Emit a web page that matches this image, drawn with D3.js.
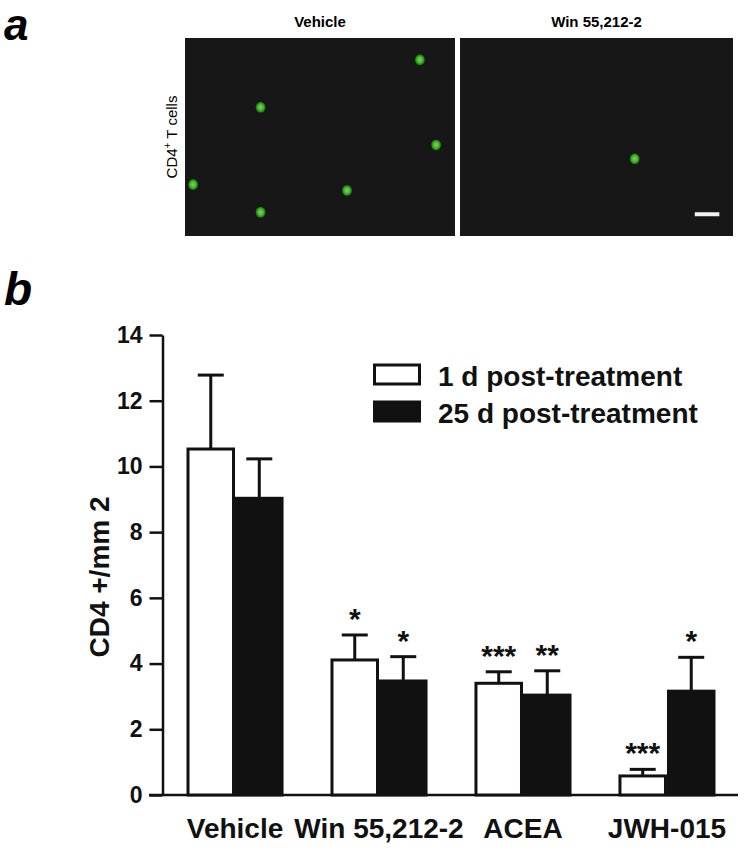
<!DOCTYPE html>
<html>
<head>
<meta charset="utf-8">
<script src="https://cdn.jsdelivr.net/npm/d3@7"></script>
<style>
  html, body { margin: 0; padding: 0; background: #ffffff; }
  svg { display: block; }
  text { font-family: "Liberation Sans", Arial, Helvetica, sans-serif; }
</style>
</head>
<body>
<svg id="chart" width="746" height="853"></svg>
<script>
// ---------- data ----------
const categories = ["Vehicle", "Win 55,212-2", "ACEA", "JWH-015"];
const seriesNames = ["1 d post-treatment", "25 d post-treatment"];
const day1Mean = [10.53, 4.11, 3.40, 0.58];
const day1Err = [2.25, 0.76, 0.35, 0.20];
const day25Mean = [9.03, 3.47, 3.04, 3.16];
const day25Err = [1.20, 0.74, 0.74, 1.03];
const day1Sig = ["", "*", "***", "***"];
const day25Sig = ["", "*", "**", "*"];
const yTicks = [0, 2, 4, 6, 8, 10, 12, 14];
const panelTitles = ["Vehicle", "Win 55,212-2"];
// micrograph cell positions (fraction of panel width / height)
const vehicleCells = [[0.87, 0.11], [0.28, 0.35], [0.93, 0.54], [0.03, 0.74], [0.60, 0.77], [0.28, 0.88]];
const winCells = [[0.64, 0.61]];

const svg = d3.select("#chart");
const defs = svg.append("defs");
const grad = defs.append("radialGradient").attr("id", "cellGrad");
grad.append("stop").attr("offset", "0%").attr("stop-color", "#7fdc4a");
grad.append("stop").attr("offset", "60%").attr("stop-color", "#3fb52a");
grad.append("stop").attr("offset", "100%").attr("stop-color", "#1f5a16");

// ---------- panel a ----------
svg.append("text").attr("x", 4).attr("y", 40)
  .attr("font-size", 44).attr("font-weight", "bold").attr("font-style", "italic")
  .text("a");

const panels = [
  { x0: 185, x1: 455, cells: vehicleCells, title: panelTitles[0], bar: false },
  { x0: 460, x1: 733, cells: winCells, title: panelTitles[1], bar: true }
];
const pTop = 38, pBot = 236;
panels.forEach(p => {
  const px = d3.scaleLinear().domain([0, 1]).range([p.x0, p.x1]);
  const py = d3.scaleLinear().domain([0, 1]).range([pTop, pBot]);
  svg.append("rect").attr("x", p.x0).attr("y", pTop)
    .attr("width", p.x1 - p.x0).attr("height", pBot - pTop)
    .attr("fill", "#161716");
  svg.append("text").attr("x", (p.x0 + p.x1) / 2).attr("y", 27)
    .attr("text-anchor", "middle").attr("font-size", 15).attr("font-weight", "bold")
    .text(p.title);
  svg.selectAll(null).data(p.cells).enter().append("ellipse")
    .attr("cx", d => px(d[0])).attr("cy", d => py(d[1]))
    .attr("rx", 5).attr("ry", 5.5)
    .attr("fill", "url(#cellGrad)");
  if (p.bar) {
    svg.append("rect").attr("x", px(0.86)).attr("y", py(0.88))
      .attr("width", px(0.95) - px(0.86)).attr("height", 4).attr("fill", "#f2f2f2");
  }
});
svg.append("text")
  .attr("transform", "translate(177,137) rotate(-90)")
  .attr("text-anchor", "middle").attr("font-size", 15)
  .html('CD4<tspan dy="-6" font-size="10">+</tspan><tspan dy="6"> T cells</tspan>');

// ---------- panel b ----------
svg.append("text").attr("x", 4).attr("y", 305)
  .attr("font-size", 46).attr("font-weight", "bold").attr("font-style", "italic")
  .text("b");

const y = d3.scaleLinear().domain([0, 14]).range([795, 335]);
const x = d3.scaleBand().domain(categories).range([186.5, 715.5])
  .paddingInner(0.326).paddingOuter(0);
const xs = d3.scaleBand().domain([0, 1]).range([0, x.bandwidth()]).padding(0);

// y axis
const yAxis = svg.append("g").attr("transform", "translate(162.5,0)")
  .call(d3.axisLeft(y).tickValues(yTicks).tickSize(13).tickSizeOuter(0).tickPadding(7));
yAxis.selectAll("path, line").attr("stroke", "#111").attr("stroke-width", 2.5);
yAxis.selectAll("text").attr("font-size", 23).attr("font-weight", "bold")
  .attr("fill", "#111").attr("font-family", "'Liberation Sans', Arial, sans-serif");

// baseline
svg.append("line").attr("x1", 149).attr("x2", 738)
  .attr("y1", y(0)).attr("y2", y(0))
  .attr("stroke", "#111").attr("stroke-width", 2.5);

// y title
svg.append("text")
  .attr("transform", `translate(109,${(y(0) + y(14)) / 2 + 12}) rotate(-90)`)
  .attr("text-anchor", "middle").attr("font-size", 28).attr("font-weight", "bold")
  .attr("fill", "#111")
  .text("CD4 +/mm 2");

const rows = categories.map((c, i) => ({
  c,
  vals: [
    { s: 0, m: day1Mean[i], e: day1Err[i], sig: day1Sig[i] },
    { s: 1, m: day25Mean[i], e: day25Err[i], sig: day25Sig[i] }
  ]
}));

const groups = svg.selectAll("g.grp").data(rows).enter().append("g")
  .attr("class", "grp")
  .attr("transform", d => `translate(${x(d.c)},0)`);

groups.selectAll("g.err").data(d => d.vals).enter().append("g").attr("class", "err")
  .each(function (d) {
    const g = d3.select(this);
    const cx = xs(d.s) + xs.bandwidth() / 2;
    g.append("line").attr("x1", cx).attr("x2", cx)
      .attr("y1", y(d.m)).attr("y2", y(d.m + d.e))
      .attr("stroke", "#111").attr("stroke-width", 3);
    g.append("line").attr("x1", cx - 13).attr("x2", cx + 13)
      .attr("y1", y(d.m + d.e)).attr("y2", y(d.m + d.e))
      .attr("stroke", "#111").attr("stroke-width", 3);
    if (d.sig) {
      g.append("text").attr("x", cx).attr("y", y(d.m + d.e) - 6)
        .attr("text-anchor", "middle").attr("font-size", 30).attr("font-weight", "bold")
        .attr("fill", "#111").text(d.sig);
    }
  });

groups.selectAll("rect.bar").data(d => d.vals).enter().append("rect")
  .attr("class", "bar")
  .attr("x", d => xs(d.s) + 1.5)
  .attr("y", d => y(d.m))
  .attr("width", xs.bandwidth() - 3)
  .attr("height", d => y(0) - y(d.m))
  .attr("fill", d => d.s === 0 ? "#ffffff" : "#111111")
  .attr("stroke", "#111").attr("stroke-width", 3);

// category labels
svg.selectAll("text.cat").data(categories).enter().append("text")
  .attr("class", "cat")
  .attr("x", d => x(d) + x.bandwidth() / 2)
  .attr("y", 838)
  .attr("text-anchor", "middle").attr("font-size", 28).attr("font-weight", "bold")
  .attr("fill", "#111")
  .text(d => d);

// legend
const legend = svg.append("g").attr("transform", "translate(373,0)");
const legRows = seriesNames.map((n, i) => ({ n, i }));
legend.selectAll("rect").data(legRows).enter().append("rect")
  .attr("x", 1.5).attr("y", d => 365 + d.i * 37)
  .attr("width", 45).attr("height", 19)
  .attr("fill", d => d.i === 0 ? "#ffffff" : "#111111")
  .attr("stroke", "#111").attr("stroke-width", 3);
legend.selectAll("text").data(legRows).enter().append("text")
  .attr("x", 65).attr("y", d => 386 + d.i * 37)
  .attr("font-size", 28).attr("font-weight", "bold").attr("fill", "#111")
  .text(d => d.n);
</script>
</body>
</html>
